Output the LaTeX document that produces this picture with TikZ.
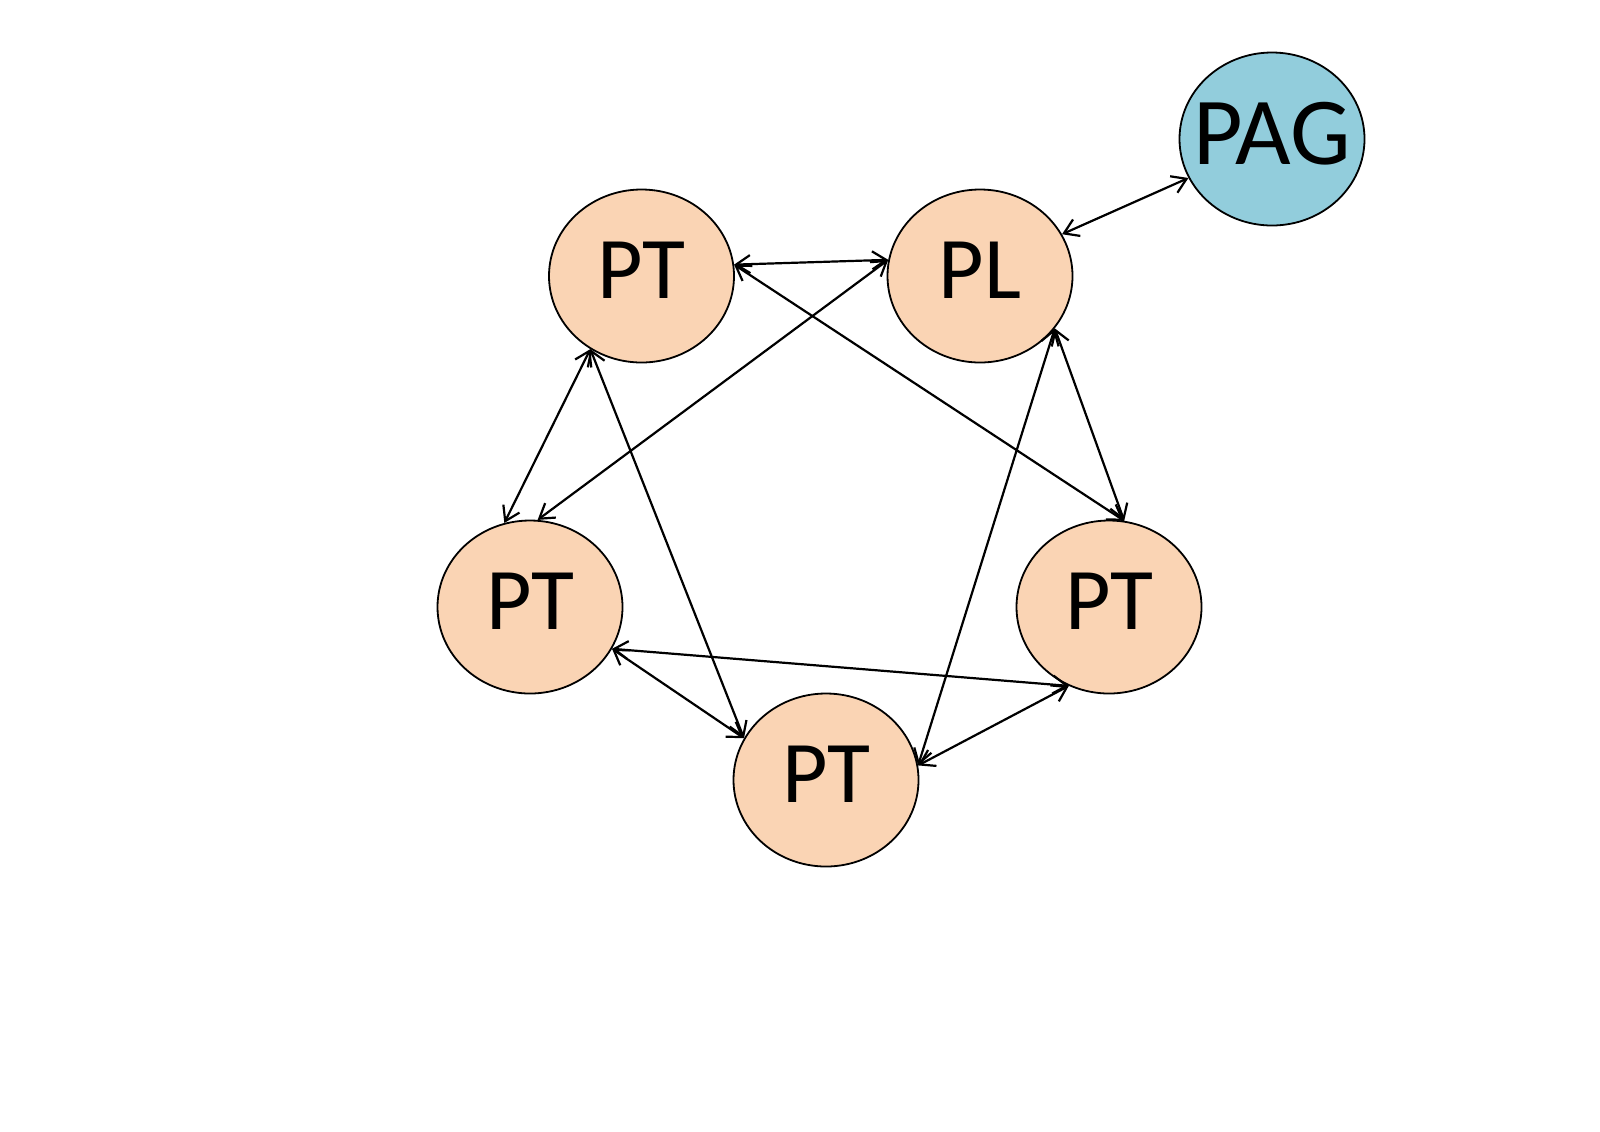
\documentclass[tikz,border=0pt]{standalone}
\usepackage{fontspec}
\setmainfont{Carlito}
\usetikzlibrary{shapes.geometric,arrows.meta}
\definecolor{peach}{RGB}{250,212,180}
\definecolor{aqua}{RGB}{146,205,220}
\begin{document}
\begin{tikzpicture}[x=0.5pt,y=0.5pt,yscale=-1,xscale=1,
	cell/.style={ellipse,draw=black,line width=0.9pt,fill=peach,minimum width=92.5pt,minimum height=86.5pt,inner sep=0pt,text depth=6pt,font=\fontsize{44}{48}\selectfont},
	link/.style={line width=1.1pt,{Straight Barb[length=7pt,width=9pt]}-{Straight Barb[length=7pt,width=9pt]}}]
	\useasboundingbox (0,0) rectangle (1600,1131);
	\node [cell] (pta) at (641.5,276) {PT};
	\node [cell] (pl) at (980,276) {PL};
	\node [cell,fill=aqua,inner xsep=-12pt,font=\fontsize{48}{52}\selectfont] (pag) at (1272,139) {PAG};
	\node [cell] (ptb) at (530,607) {PT};
	\node [cell] (ptc) at (1109,607) {PT};
	\node [cell] (ptd) at (826,780) {PT};
	\draw [link] (pl.27) -- (pag.205);
	\draw [link] (pta.7.5) -- (pl.170);
	\draw [link] (pta.7.5) -- (ptc.80);
	\draw [link] (pl.170) -- (ptb.85);
	\draw [link] (pta.235) -- (ptb.107);
	\draw [link] (pta.235) -- (ptd.153);
	\draw [link] (pl.325) -- (ptc.80);
	\draw [link] (pl.325) -- (ptd.9);
	\draw [link] (ptb.333) -- (ptc.243);
	\draw [link] (ptb.333) -- (ptd.153);
	\draw [link] (ptc.243) -- (ptd.9);
\end{tikzpicture}
\end{document}
